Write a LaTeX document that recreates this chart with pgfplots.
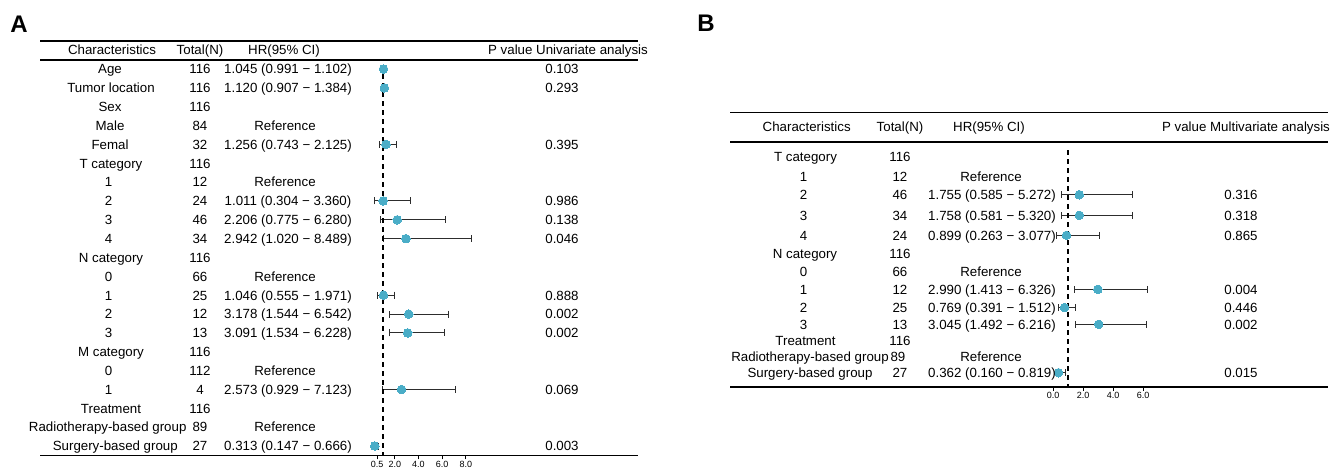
\documentclass[border=0pt]{standalone}
\usepackage{fontspec}
\setmainfont{Liberation Sans}
\usepackage{pgfplots}
\usepackage{pgfplotstable}
\pgfplotsset{compat=1.18}
\definecolor{dotc}{RGB}{74,173,199}
\definecolor{barc}{RGB}{45,45,45}

% Panel A: row index, HR, lower, upper
\pgfplotstableread{
row hr lo hi
1 1.045 0.991 1.102
2 1.120 0.907 1.384
5 1.256 0.743 2.125
8 1.011 0.304 3.360
9 2.206 0.775 6.280
10 2.942 1.020 8.489
13 1.046 0.555 1.971
14 3.178 1.544 6.542
15 3.091 1.534 6.228
18 2.573 0.929 7.123
21 0.313 0.147 0.666
}\dataA

% Panel B: row position, HR, lower, upper
\pgfplotstableread{
row hr lo hi
194.7 1.755 0.585 5.272
215.3 1.758 0.581 5.320
235.3 0.899 0.263 3.077
289.3 2.990 1.413 6.326
307.5 0.769 0.391 1.512
324.3 3.045 1.492 6.216
372.7 0.362 0.160 0.819
}\dataB

\newcommand\tf{\fontsize{13.3bp}{16bp}\selectfont}
% \rowT{y}{charx}{char}{nx}{N}{hrx}{HR}{px}{P}
\newcommand\rowT[9]{%
  \node[anchor=base,inner sep=0pt,font=\tf] at (#2,#1+4.8) {#3};
  \node[anchor=base,inner sep=0pt,font=\tf] at (#4,#1+4.8) {#5};
  \node[anchor=base,inner sep=0pt,font=\tf] at (#6,#1+4.8) {#7};
  \node[anchor=base,inner sep=0pt,font=\tf] at (#8,#1+4.8) {#9};
}

\begin{document}
\begin{tikzpicture}
\useasboundingbox (0,0) rectangle (1338bp,-474bp);
\pgfplotsset{forest/.style={
  scale only axis, clip=false,
  axis x line*=bottom, axis y line=none,
  x axis line style={line width=1.2bp,-},
  tick align=outside, major tick length=4bp,
  xtick style={line width=0.9bp,black},
  xticklabel style={font=\fontsize{9bp}{10bp}\selectfont, inner sep=1.5bp},
  ytick=\empty,
},
cibar/.style={only marks, mark=none, forget plot,
  error bars/.cd, x dir=both, x explicit, error mark=|,
  error bar style={line width=1bp, barc},
  error mark options={line width=1bp, barc, mark size=3.5bp}},
cidot/.style={only marks, color=dotc, mark=*, mark size=4.3bp,
  mark options={fill=dotc, draw=dotc, line width=0pt}}}

% ---------- Panel A ----------
\begin{axis}[forest,
  at={(341.5bp,-455.43bp)}, anchor=south west,
  width=140.07bp, height=395.85bp,
  xmin=-2.5, xmax=9.33, ymin=-21.5, ymax=-0.5,
  xtick={0.5,2,4,6,8}, xticklabels={0.5,2.0,4.0,6.0,8.0}]
\addplot[cibar]
  table[x=hr, y expr=-\thisrow{row},
        x error plus expr=\thisrow{hi}-\thisrow{hr},
        x error minus expr=\thisrow{hr}-\thisrow{lo}] {\dataA};
\addplot[cidot] table[x=hr, y expr=-\thisrow{row}] {\dataA};
\addplot[line width=1.6bp, dash pattern=on 5bp off 4bp] coordinates {(1,-0.79) (1,-21.5)};
\end{axis}

% ---------- Panel B ----------
\begin{axis}[forest,
  at={(1015.5bp,-387bp)}, anchor=south west,
  width=136.5bp, height=245.3bp,
  xmin=-2.5, xmax=6.6, ymin=-387, ymax=-141.7,
  xtick={0,2,4,6}, xticklabels={0.0,2.0,4.0,6.0}]
\addplot[cibar]
  table[x=hr, y expr=-\thisrow{row},
        x error plus expr=\thisrow{hi}-\thisrow{hr},
        x error minus expr=\thisrow{hr}-\thisrow{lo}] {\dataB};
\addplot[cidot] table[x=hr, y expr=-\thisrow{row}] {\dataB};
\addplot[line width=1.6bp, dash pattern=on 5bp off 4bp] coordinates {(1,-150) (1,-387)};
\end{axis}

\begin{scope}[x=1bp,y=-1bp]
% panel labels
\node[font=\fontsize{24bp}{28bp}\selectfont\bfseries, inner sep=0pt] at (19,24.5) {A};
\node[font=\fontsize{24bp}{28bp}\selectfont\bfseries, inner sep=0pt] at (706,23) {B};

% rules A
\draw[line width=1.6bp] (40,40.7) -- (638,40.7);
\draw[line width=1.6bp] (40,60) -- (638,60);
\draw[line width=1.6bp] (40,455.4) -- (638,455.4);
% rules B
\draw[line width=1.6bp] (730,112.5) -- (1328,112.5);
\draw[line width=1.6bp] (730,141.7) -- (1328,141.7);
\draw[line width=1.6bp] (730,387) -- (1328,387);

% header A
\rowT{50}{112}{Characteristics}{200}{Total(N)}{284}{HR(95\% CI)}{568}{P value Univariate analysis}
% rows A
\rowT{69}{110}{Age}{200}{116}{288}{1.045 (0.991 − 1.102)}{562}{0.103}
\rowT{87.85}{111}{Tumor location}{200}{116}{288}{1.120 (0.907 − 1.384)}{562}{0.293}
\rowT{106.7}{110}{Sex}{200}{116}{288}{}{562}{}
\rowT{125.55}{110}{Male}{200}{84}{285}{Reference}{562}{}
\rowT{144.4}{110}{Femal}{200}{32}{288}{1.256 (0.743 − 2.125)}{562}{0.395}
\rowT{163.25}{111}{T category}{200}{116}{288}{}{562}{}
\rowT{182.1}{108.5}{1}{200}{12}{285}{Reference}{562}{}
\rowT{200.95}{108.5}{2}{200}{24}{288}{1.011 (0.304 − 3.360)}{562}{0.986}
\rowT{219.8}{108.5}{3}{200}{46}{288}{2.206 (0.775 − 6.280)}{562}{0.138}
\rowT{238.65}{108.5}{4}{200}{34}{288}{2.942 (1.020 − 8.489)}{562}{0.046}
\rowT{257.5}{111}{N category}{200}{116}{288}{}{562}{}
\rowT{276.35}{108.5}{0}{200}{66}{285}{Reference}{562}{}
\rowT{295.2}{108.5}{1}{200}{25}{288}{1.046 (0.555 − 1.971)}{562}{0.888}
\rowT{314.05}{108.5}{2}{200}{12}{288}{3.178 (1.544 − 6.542)}{562}{0.002}
\rowT{332.9}{108.5}{3}{200}{13}{288}{3.091 (1.534 − 6.228)}{562}{0.002}
\rowT{351.75}{111}{M category}{200}{116}{288}{}{562}{}
\rowT{370.6}{108.5}{0}{200}{112}{285}{Reference}{562}{}
\rowT{389.45}{108.5}{1}{200}{4}{288}{2.573 (0.929 − 7.123)}{562}{0.069}
\rowT{408.3}{111}{Treatment}{200}{116}{288}{}{562}{}
\rowT{427.15}{107.7}{Radiotherapy-based group}{200}{89}{285}{Reference}{562}{}
\rowT{446}{115.3}{Surgery-based group}{200}{27}{288}{0.313 (0.147 − 0.666)}{562}{0.003}

% header B
\rowT{126.7}{806.7}{Characteristics}{900}{Total(N)}{989}{HR(95\% CI)}{1246}{P value Multivariate analysis}
% rows B
\rowT{156.7}{805.5}{T category}{900}{116}{992}{}{1241}{}
\rowT{176.7}{803.5}{1}{900}{12}{991}{Reference}{1241}{}
\rowT{194.7}{803.5}{2}{900}{46}{992}{1.755 (0.585 − 5.272)}{1241}{0.316}
\rowT{215.3}{803.5}{3}{900}{34}{992}{1.758 (0.581 − 5.320)}{1241}{0.318}
\rowT{235.3}{803.5}{4}{900}{24}{992}{0.899 (0.263 − 3.077)}{1241}{0.865}
\rowT{253.3}{805}{N category}{900}{116}{992}{}{1241}{}
\rowT{271.3}{803.5}{0}{900}{66}{991}{Reference}{1241}{}
\rowT{289.3}{803.5}{1}{900}{12}{992}{2.990 (1.413 − 6.326)}{1241}{0.004}
\rowT{307.5}{803.5}{2}{900}{25}{992}{0.769 (0.391 − 1.512)}{1241}{0.446}
\rowT{324.3}{803.5}{3}{900}{13}{992}{3.045 (1.492 − 6.216)}{1241}{0.002}
\rowT{340.3}{805.5}{Treatment}{900}{116}{992}{}{1241}{}
\rowT{356.7}{810}{Radiotherapy-based group}{898}{89}{991}{Reference}{1241}{}
\rowT{372.7}{810}{Surgery-based group}{900}{27}{992}{0.362 (0.160 − 0.819)}{1241}{0.015}
\end{scope}
\end{tikzpicture}
\end{document}
